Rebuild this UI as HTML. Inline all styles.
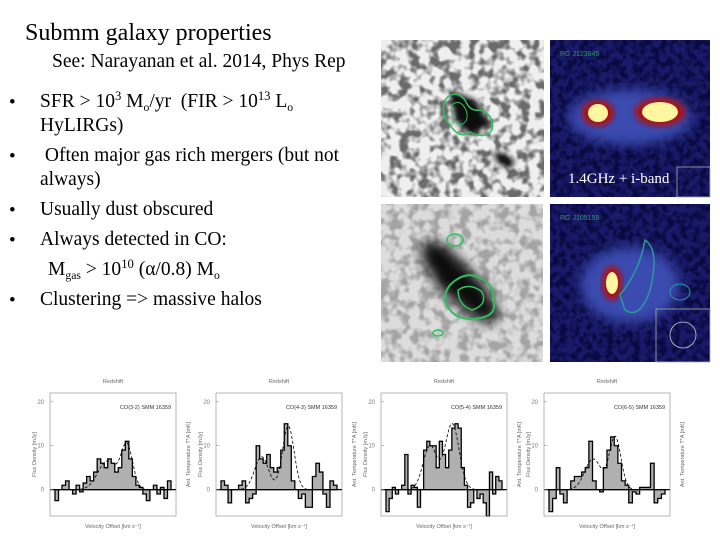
<!DOCTYPE html>
<html><head><meta charset="utf-8">
<style>
html,body{margin:0;padding:0;background:#fff;}
body{width:720px;height:540px;position:relative;overflow:hidden;font-family:"Liberation Serif",serif;color:#000;}
.t{position:absolute;white-space:nowrap;}
sup{font-size:65%;vertical-align:7px;line-height:0}
sub{font-size:60%;vertical-align:-4px;line-height:0}
.b{position:absolute;left:9px;font-size:19px;}
.l{position:absolute;left:40px;font-size:19.5px;white-space:nowrap;}
</style></head>
<body>
<div class="t" style="left:25px;top:20px;font-size:24px;">Submm galaxy properties</div>
<div class="t" style="left:52px;top:51px;font-size:19.5px;">See: Narayanan et al. 2014, Phys Rep</div>

<div>
<span class="b" style="top:92px">•</span>
<div class="l" style="top:91px">SFR &gt; 10<sup>3</sup> M<sub>o</sub>/yr&nbsp; (FIR &gt; 10<sup>13</sup> L<sub>o</sub></div>
<div class="l" style="top:115px">HyLIRGs)</div>
<span class="b" style="top:146px">•</span>
<div class="l" style="top:145px">&nbsp;Often major gas rich mergers (but not</div>
<div class="l" style="top:169px">always)</div>
<span class="b" style="top:200px">•</span>
<div class="l" style="top:199px">Usually dust obscured</div>
<span class="b" style="top:230px">•</span>
<div class="l" style="top:229px">Always detected in CO:</div>
<div class="l" style="top:259px;left:48px">M<sub>gas</sub> &gt; 10<sup>10</sup> (α/0.8) M<sub>o</sub></div>
<span class="b" style="top:290px">•</span>
<div class="l" style="top:289px">Clustering =&gt; massive halos</div>
</div>

<svg style="position:absolute;left:0;top:0" width="720" height="540">
<defs>
<filter id="noise" x="0" y="0" width="100%" height="100%">
<feTurbulence type="fractalNoise" baseFrequency="0.1" numOctaves="2" seed="3"/>
<feColorMatrix type="matrix" values="0 0 0 0 0  0 0 0 0 0  0 0 0 0 0  -4 0 0 0 2.3"/>
</filter>
<filter id="noiseb" x="0" y="0" width="100%" height="100%">
<feTurbulence type="fractalNoise" baseFrequency="0.15" numOctaves="2" seed="8"/>
<feColorMatrix type="matrix" values="0 0 0 0 0  0 0 0 0 0  0 0 0 0 0.02  -4 0 0 0 2.4"/>
</filter>
<filter id="blur3"><feGaussianBlur stdDeviation="3"/></filter>
<filter id="blur5"><feGaussianBlur stdDeviation="6"/></filter>
</defs>
<g>
<rect x="381" y="40" width="163" height="157" fill="#efefef"/>
<rect x="381" y="40" width="163" height="157" fill="#000" filter="url(#noise)" opacity="0.55"/>
<path d="M450 90 L475 100 L490 125 L470 135 L455 120Z M495 150 L515 160 L510 170 L495 160Z" fill="#111" filter="url(#blur3)"/>
<path d="M445 100 Q455 88 465 100 Q470 112 480 110 Q495 115 492 130 Q485 140 470 132 Q460 140 450 125 Q440 115 445 100Z" fill="none" stroke="#2fbf5f" stroke-width="1.5"/>
<path d="M452 105 Q460 98 466 110 Q470 122 460 125 Q450 120 452 105Z" fill="none" stroke="#2fbf5f" stroke-width="1"/>
</g>
<g>
<rect x="381" y="204" width="162" height="158" fill="#dcdcdc"/>
<rect x="381" y="204" width="162" height="158" fill="#000" filter="url(#noise)" opacity="0.25"/>
<path d="M425 240 L445 245 L485 285 L500 315 L490 325 L470 315 L440 290 L420 255Z" fill="#0a0a0a" filter="url(#blur5)"/>
<path d="M450 285 Q465 270 480 278 Q495 285 493 300 Q498 315 480 318 Q460 322 450 310 Q440 298 450 285Z" fill="none" stroke="#2fbf5f" stroke-width="2"/>
<path d="M458 290 Q470 282 482 292 Q488 305 472 310 Q458 305 458 290Z" fill="none" stroke="#2fbf5f" stroke-width="1.5"/>
<ellipse cx="455" cy="240" rx="8" ry="6" fill="none" stroke="#2fbf5f" stroke-width="1.5"/>
<ellipse cx="438" cy="333" rx="5" ry="3" fill="none" stroke="#2fbf5f" stroke-width="1.5"/>
</g>
<g>
<rect x="550" y="40" width="160" height="157" fill="#1a1a6a"/>
<rect x="550" y="40" width="160" height="157" fill="#000" filter="url(#noiseb)" opacity="0.6"/>
<ellipse cx="630" cy="117" rx="62" ry="28" fill="#3a4cb0" filter="url(#blur5)"/>
<ellipse cx="598" cy="113" rx="16" ry="13" fill="#b01010" filter="url(#blur3)"/>
<ellipse cx="660" cy="112" rx="25" ry="14" fill="#b01010" filter="url(#blur3)"/>
<ellipse cx="598" cy="113" rx="10" ry="9" fill="#fff6a0"/>
<ellipse cx="660" cy="112" rx="18" ry="10" fill="#fff6a0"/>
<text x="560" y="56" font-family="Liberation Sans,sans-serif" font-size="7" fill="#2a9a6a">RG J123645</text>
<rect x="677" y="167" width="33" height="30" fill="none" stroke="#aaa" stroke-width="0.8"/>
<text x="568" y="183" font-size="15" fill="#fff">1.4GHz + i-band</text>
</g>
<g>
<rect x="550" y="204" width="160" height="158" fill="#1a1a6a"/>
<rect x="550" y="204" width="160" height="158" fill="#000" filter="url(#noiseb)" opacity="0.6"/>
<ellipse cx="630" cy="285" rx="50" ry="38" fill="#3a4cb0" filter="url(#blur5)"/>
<ellipse cx="612" cy="283" rx="10" ry="17" fill="#b01010" filter="url(#blur3)"/>
<ellipse cx="612" cy="283" rx="6" ry="11" fill="#fff6a0"/>
<path d="M620 295 Q640 270 645 240 Q660 250 650 290 Q640 320 625 310Z" fill="none" stroke="#2a9a9a" stroke-width="1.5"/>
<ellipse cx="680" cy="292" rx="10" ry="8" fill="none" stroke="#2a9a9a" stroke-width="1"/>
<text x="560" y="220" font-family="Liberation Sans,sans-serif" font-size="7" fill="#2a9a6a">RG J105159</text>
<rect x="656" y="309" width="54" height="53" fill="none" stroke="#aaa" stroke-width="0.8"/>
<circle cx="683" cy="335" r="13" fill="none" stroke="#ccc" stroke-width="0.8"/>
</g>
</svg>

<svg id="spectra" style="position:absolute;left:0;top:0" width="720" height="540"></svg>

<script>
// Flux density per velocity bin (mJy), one array per panel
const spec1 = [-2.5,0,1,2,0,-1,1,-0.5,1.5,3,2,4,7,6,5,7,6,4,5,9,11,7,3,1,0.5,-1,-2.5,0,1,-1,0.5,-2,2];
const spec2 = [2,1,-3,0,0,1,2,-3,-2,-1,10,7,6,8,5,4,5,9,15,10,2,0,-2,-1,-4,-4,3,6,4,-1,-4,2,1];
const spec3 = [-5,-2,0.5,-1,0,1,8,-1,1,0.5,-4,0,9,11,10,10,5,11,8,5,9,14,15,14,5,1,-4,-3,0,-2,-1,-3,-6,4,-1,3,2];
const spec4 = [-5,-2,5,-1,-3,0,2,3,3,4,5,11,2,0,-0.5,5,9,12,10,6,2,1,-3,-0.5,-1,0.5,0.5,0.5,6,-3,-2,-1];
// Double-gaussian fit parameters: [amp1, center1(0-1), sigma1, amp2, center2, sigma2]
const fit1 = [6.5,0.45,0.08,10,0.62,0.05];
const fit2 = [7.5,0.35,0.06,14.5,0.58,0.05];
const fit3 = [10,0.38,0.06,15,0.57,0.06];
const fit4 = [7,0.38,0.07,12,0.57,0.05];
const lineLabels = ["CO(3-2) SMM 16359","CO(4-3) SMM 16359","CO(5-4) SMM 16359","CO(6-5) SMM 16359"];
const yTicks = [0,10,20];
const yMin = -6, yMax = 22;

const specs=[spec1,spec2,spec3,spec4], fits=[fit1,fit2,fit3,fit4];
const panelX=[50,216,381,544], pw=126, plotTop=393, plotBottom=516;
const svgEl=document.getElementById('spectra');
const NS='http://www.w3.org/2000/svg';
function mk(tag,attrs,parent){const e=document.createElementNS(NS,tag);for(const k in attrs)e.setAttribute(k,attrs[k]);(parent||svgEl).appendChild(e);return e;}
function yS(v){return plotBottom-(v-yMin)/(yMax-yMin)*(plotBottom-plotTop);}
specs.forEach((d,i)=>{
  const x0=panelX[i];
  const g=mk('g',{});
  
  
  const x1=x0+5, x2=x0+pw-5, bw=(x2-x1)/d.length;
  const xS=j=>x1+j*bw;
  let p='M'+xS(0)+' '+yS(0);
  d.forEach((v,j)=>{p+=' L'+xS(j)+' '+yS(v)+' L'+xS(j+1)+' '+yS(v);});
  p+=' L'+xS(d.length)+' '+yS(0)+'Z';
  const area=mk('path',{d:p,fill:'#b0b0b0',stroke:'#000','stroke-width':1.3},g);
  
  
  const f=fits[i];let fp='';
  for(let k=0;k<=100;k++){const t=k/100;const v=f[0]*Math.exp(-((t-f[1])**2)/(2*f[2]**2))+f[3]*Math.exp(-((t-f[4])**2)/(2*f[5]**2));
    fp+=(k?' L':'M')+(x1+t*(x2-x1))+' '+yS(v);}
  const fl=mk('path',{d:fp,fill:'none',stroke:'#000','stroke-width':0.8,'stroke-dasharray':'3,2'},g);
  
  
  mk('line',{x1:x0,x2:x0+pw,y1:yS(0),y2:yS(0),stroke:'#000','stroke-width':1.3},g);
  mk('rect',{x:x0,y:plotTop,width:pw,height:plotBottom-plotTop,fill:'none',stroke:'#888','stroke-width':0.6},g);
  yTicks.forEach(t=>{
    mk('line',{x1:x0,x2:x0+3,y1:yS(t),y2:yS(t),stroke:'#888','stroke-width':0.6},g);
    const tx=mk('text',{x:x0-6,y:yS(t)+2,'font-size':6,'text-anchor':'end','font-family':'Liberation Sans,sans-serif',fill:'#777'},g);tx.textContent=t;
  });
  const lb=mk('text',{x:x0+pw-5,y:plotTop+16,'font-size':5.5,'text-anchor':'end','font-family':'Liberation Sans,sans-serif',fill:'#333'},g);lb.textContent=lineLabels[i];
  const rt=mk('text',{x:x0+pw/2,y:plotTop-10,'font-size':5.5,'text-anchor':'middle','font-family':'Liberation Sans,sans-serif',fill:'#666'},g);rt.textContent='Redshift';
  const xt=mk('text',{x:x0+pw/2,y:plotBottom+12,'font-size':5.5,'text-anchor':'middle','font-family':'Liberation Sans,sans-serif',fill:'#666'},g);xt.textContent='Velocity Offset [km s⁻¹]';
  const yl=mk('text',{x:0,y:0,'font-size':5.5,'text-anchor':'middle','font-family':'Liberation Sans,sans-serif',fill:'#666',transform:'translate('+(x0-14)+','+((plotTop+plotBottom)/2)+') rotate(-90)'},g);yl.textContent='Flux Density [mJy]';
  const yr=mk('text',{x:0,y:0,'font-size':5.5,'text-anchor':'middle','font-family':'Liberation Sans,sans-serif',fill:'#666',transform:'translate('+(x0+pw+14)+','+((plotTop+plotBottom)/2)+') rotate(-90)'},g);yr.textContent='Ant. Temperature T*A [mK]';
});
</script>
</body></html>
